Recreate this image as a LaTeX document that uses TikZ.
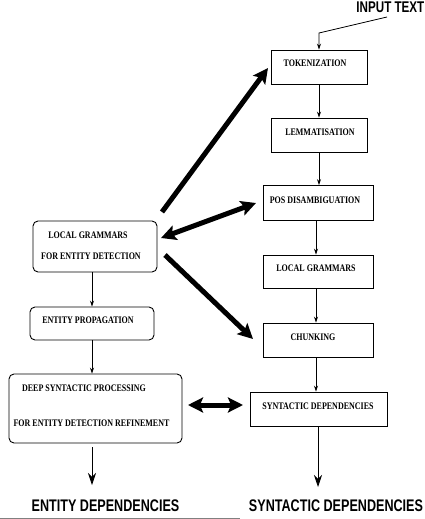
\documentclass[tikz,border=0pt]{standalone}
\usepackage{fontspec}
\setmainfont{Liberation Serif}
\newfontfamily\boxfont[FakeStretch=0.8]{Liberation Serif}
\newfontfamily\bigfont[FakeStretch=0.75]{Liberation Sans}
\usetikzlibrary{arrows.meta}
\begin{document}
\begin{tikzpicture}[x=1pt,y=-1pt,
  rbox/.style={draw,line width=0.9pt,inner sep=0pt},
  lbox/.style={draw,line width=0.9pt,rounded corners=5pt,inner sep=0pt},
  btxt/.style={font=\boxfont\bfseries\fontsize{10}{11}\selectfont,inner sep=0pt},
  bigtxt/.style={font=\bigfont\bfseries\fontsize{16.8}{18}\selectfont,inner sep=0pt},
  thin/.style={line width=0.8pt,-{Stealth[length=6pt,width=4pt]}},
  thick/.style={line width=5pt,-{Stealth[length=15pt,width=15pt,inset=3pt]}},
  dthick/.style={line width=5pt,{Stealth[length=15pt,width=15pt,inset=3pt]}-{Stealth[length=15pt,width=15pt,inset=3pt]}}]
\useasboundingbox (0,0) rectangle (425,519);
\coordinate (xr) at (316,0);
\coordinate (xs) at (318,0);
\coordinate (xl) at (92,0);
% right column boxes
\node[rbox,minimum width=96pt,minimum height=34pt] (tok) at (319,67) {};
\node[btxt] at (315,63) {TOKENIZATION};
\node[rbox,minimum width=96pt,minimum height=34pt] (lem) at (319,135) {};
\node[btxt] at (320,132) {LEMMATISATION};
\node[rbox,minimum width=110pt,minimum height=35pt] (pos) at (318.5,203) {};
\node[btxt] at (315,200) {POS DISAMBIGUATION};
\node[rbox,minimum width=110pt,minimum height=33pt] (lg) at (318.5,271.5) {};
\node[btxt] at (316,268) {LOCAL GRAMMARS};
\node[rbox,minimum width=110pt,minimum height=34pt] (chk) at (318.5,340) {};
\node[btxt] at (313,337) {CHUNKING};
\node[rbox,minimum width=137pt,minimum height=34pt] (syn) at (318.5,409) {};
\node[btxt] at (318,406) {SYNTACTIC DEPENDENCIES};
% left column boxes
\node[lbox,minimum width=124pt,minimum height=51pt] (lge) at (95,246.5) {};
\node[btxt] at (88,235) {LOCAL GRAMMARS};
\node[btxt] at (91,256) {FOR ENTITY DETECTION};
\node[lbox,minimum width=124pt,minimum height=33pt] (ep) at (92,323.5) {};
\node[btxt] at (88,320) {ENTITY PROPAGATION};
\node[lbox,minimum width=173pt,minimum height=69pt] (dsp) at (95.5,408.5) {};
\node[btxt] at (84,388) {DEEP SYNTACTIC PROCESSING};
\node[btxt] at (91.5,423) {FOR ENTITY DETECTION REFINEMENT};
% texts
\node[bigtxt,font=\bigfont\bfseries\fontsize{15.5}{17}\selectfont,anchor=base east] (inp) at (424.5,12.5) {INPUT TEXT};
\node[bigtxt,anchor=base] (edep) at (105.5,511) {ENTITY DEPENDENCIES};
\node[bigtxt,anchor=base] (sdep) at (336,511) {SYNTACTIC DEPENDENCIES};
% thin arrows right
\coordinate (bend) at (319,33);
\coordinate (inend) at (387,17);
\draw[thin] (inend) -- (bend) -- (tok.north);
\draw[thin] (tok.south) -- (lem.north);
\draw[thin] (lem.south) -- (lem.south|-pos.north);
\draw[thin] (pos.south-|xr) -- (lg.north-|xr);
\draw[thin] (lg.south-|xr) -- (chk.north-|xr);
\draw[thin] (chk.south-|xr) -- (syn.north-|xr);
\coordinate (sdtop) at (318,487);
\draw[line width=0.8pt,-{Stealth[length=12pt,width=8pt]}] (syn.south-|xs) -- (sdtop);
% thin arrows left
\draw[thin] (lge.south-|xl) -- (ep.north-|xl);
\draw[thin] (ep.south-|xl) -- (dsp.north-|xl);
\coordinate (ed0) at (92,447);
\coordinate (ed1) at (92,485);
\draw[line width=0.8pt,-{Stealth[length=12pt,width=8pt]}] (ed0) -- (ed1);
% thick arrows
\coordinate (a0) at (162,212); \coordinate (a1) at (268,68);
\coordinate (b0) at (161,238); \coordinate (b1) at (256,203);
\coordinate (c0) at (165,255); \coordinate (c1) at (253,339);
\coordinate (d0) at (188,405); \coordinate (d1) at (243,405);
\draw[thick] (a0) -- (a1);
\draw[dthick] (b0) -- (b1);
\draw[thick] (c0) -- (c1);
\draw[dthick] (d0) -- (d1);
% bottom artifact line
\draw[gray,line width=1pt] (0,518) -- (240,518);
\end{tikzpicture}
\end{document}
